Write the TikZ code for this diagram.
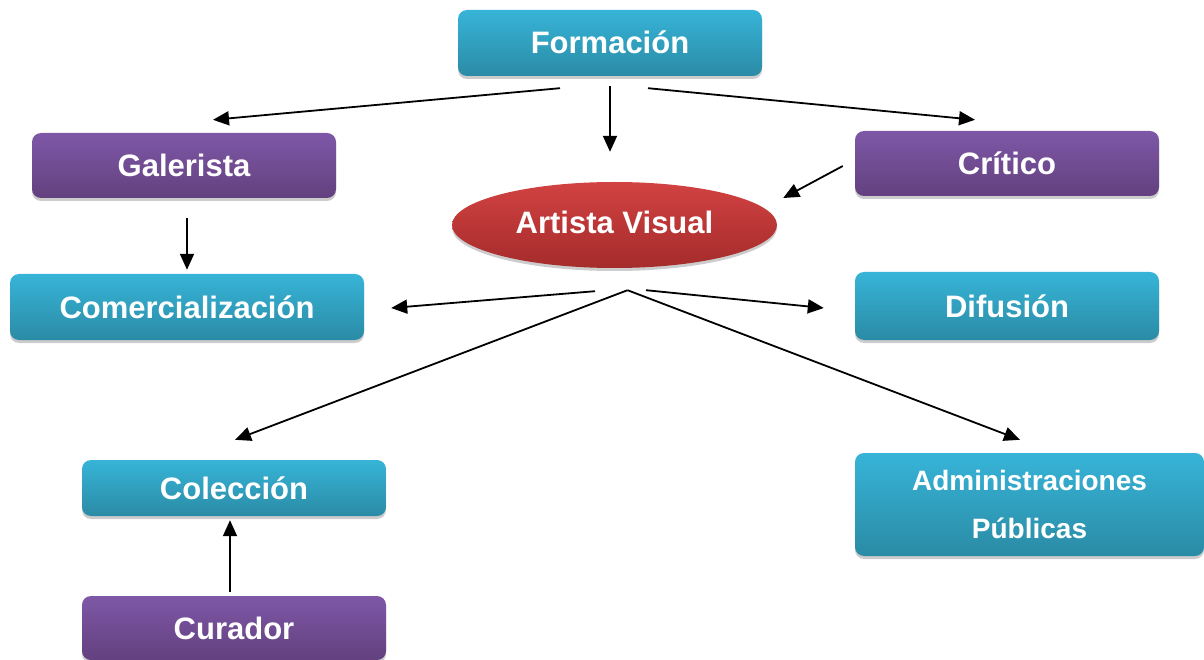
\documentclass[tikz,border=0pt]{standalone}
\usepackage{fontspec}
\setmainfont{Liberation Sans}
\usetikzlibrary{arrows.meta, shapes.geometric, shadows}
\definecolor{cyantop}{HTML}{37B4D8}
\definecolor{cyanbot}{HTML}{2A8BA5}
\definecolor{lilatop}{HTML}{7E58A7}
\definecolor{lilabot}{HTML}{63407E}
\definecolor{rojotop}{HTML}{D24242}
\definecolor{rojobot}{HTML}{A52B2B}

\begin{document}
\begin{tikzpicture}[x=1pt, y=-1pt,
    caja/.style={rectangle, rounded corners=9pt, inner sep=0pt, text=white,
        font=\bfseries\fontsize{31}{36}\selectfont, minimum width=304pt,
        drop shadow={shadow xshift=0pt, shadow yshift=-3pt, fill=black!40}},
    azul/.style={caja, top color=cyantop, bottom color=cyanbot},
    lila/.style={caja, top color=lilatop, bottom color=lilabot},
    flecha/.style={line width=1.8pt, -{Triangle[length=16pt,width=14pt]}}
]
        \useasboundingbox (0,0) rectangle (1204,660);
        % cajas
        \node[azul, minimum height=66pt] (form) at (610,43) {\raisebox{2pt}{Formación}};
        \node[lila, minimum height=65pt] (gal) at (184,165.5) {Galerista};
        \node[lila, minimum height=65pt] (crit) at (1007,163.5) {Crítico};
        \node[ellipse, inner sep=0pt, minimum width=325pt, minimum height=86pt,
            top color=rojotop, bottom color=rojobot, text=white,
            font=\bfseries\fontsize{31}{36}\selectfont,
            drop shadow={shadow xshift=0pt, shadow yshift=-3pt, fill=black!40}]
            (art) at (614.5,225) {\raisebox{5pt}{Artista Visual}};
        \node[azul, minimum width=354pt, minimum height=66pt] (com) at (187,307) {Comercialización};
        \node[azul, minimum height=68pt] (dif) at (1007,306) {Difusión};
        \node[azul, minimum height=56pt] (col) at (234,488) {Colección};
        \node[azul, minimum width=349pt, minimum height=103pt, align=center,
            font=\bfseries\fontsize{28}{48}\selectfont] (adm) at (1029.5,504.5)
            {\raisebox{-3pt}{Administraciones}\\\raisebox{-3pt}{Públicas}};
        \node[lila, minimum height=64pt] (cur) at (234,628) {Curador};
        % flechas
        \draw[flecha] ([xshift=-50pt,yshift=-12pt]form.south) -- ([xshift=29pt,yshift=13pt]gal.north);
        \draw[flecha] ([yshift=-10pt]form.south) -- ([xshift=-4.5pt,yshift=30pt]art.north);
        \draw[flecha] ([xshift=38pt,yshift=-12pt]form.south) -- ([xshift=-32pt,yshift=11pt]crit.north);
        \draw[flecha] ([xshift=-12pt,yshift=-2.5pt]crit.west) -- ([xshift=6pt,yshift=27pt]art.east);
        \draw[flecha] ([xshift=3pt,yshift=-20pt]gal.south) -- ([yshift=4pt]com.north);
        \draw[flecha] ([xshift=-19.5pt,yshift=-23pt]art.south) -- ([xshift=27pt,yshift=-1pt]com.east);
        \draw[flecha] ([xshift=13pt,yshift=-22pt]art.south) -- ([xshift=1pt,yshift=20pt]col.north);
        \draw[flecha] ([xshift=13pt,yshift=-22pt]art.south) -- ([xshift=-9.5pt,yshift=13pt]adm.north);
        \draw[flecha] ([xshift=31.5pt,yshift=-22pt]art.south) -- ([xshift=-31pt,yshift=-2pt]dif.west);
        \draw[flecha] ([xshift=-4pt,yshift=4pt]cur.north) -- ([xshift=-4pt,yshift=-4pt]col.south);
    \end{tikzpicture}
\end{document}
